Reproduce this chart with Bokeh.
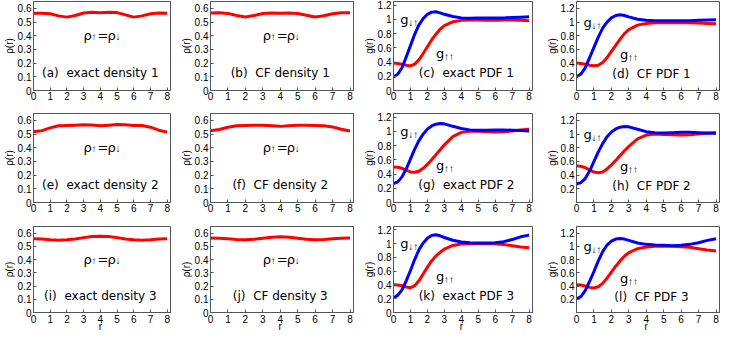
import math
from bokeh.plotting import figure
from bokeh.layouts import row, column
from bokeh.models import Range1d, FixedTicker, NumeralTickFormatter, Label
from bokeh.embed import file_html
from bokeh.resources import INLINE

# ---------------- data ----------------
r_dens = [0, 0.5, 1.0, 1.5, 2.0, 2.5, 3.0, 3.5, 4.0, 4.5, 5.0, 5.5, 6.0, 6.5, 7.0, 7.5, 8.0]
dens_a = [0.564, 0.565, 0.560, 0.545, 0.536, 0.548, 0.566, 0.571, 0.567, 0.572, 0.569, 0.552, 0.536, 0.545, 0.560, 0.566, 0.564]
dens_b = [0.566, 0.567, 0.563, 0.548, 0.537, 0.548, 0.562, 0.566, 0.564, 0.566, 0.563, 0.550, 0.537, 0.546, 0.561, 0.567, 0.567]
dens_e = [0.516, 0.525, 0.545, 0.560, 0.562, 0.565, 0.568, 0.566, 0.560, 0.565, 0.570, 0.567, 0.563, 0.562, 0.550, 0.528, 0.514]
dens_f = [0.524, 0.533, 0.550, 0.561, 0.563, 0.564, 0.564, 0.560, 0.556, 0.561, 0.565, 0.564, 0.562, 0.560, 0.552, 0.535, 0.522]
dens_i = [0.558, 0.555, 0.550, 0.547, 0.549, 0.556, 0.566, 0.574, 0.577, 0.574, 0.566, 0.556, 0.549, 0.547, 0.550, 0.555, 0.558]
dens_j = [0.563, 0.562, 0.557, 0.552, 0.550, 0.553, 0.561, 0.569, 0.572, 0.569, 0.561, 0.553, 0.550, 0.552, 0.557, 0.562, 0.563]

r_pdf = [0, 0.25, 0.5, 0.75, 1, 1.25, 1.5, 1.75, 2, 2.25, 2.5, 2.75, 3, 3.5, 4, 4.5, 5, 5.5, 6, 6.5, 7, 7.5, 8]
g_ud_c = [0.19, 0.23, 0.32, 0.47, 0.63, 0.79, 0.92, 1.01, 1.07, 1.10, 1.105, 1.09, 1.07, 1.04, 1.02, 1.015, 1.02, 1.02, 1.02, 1.02, 1.025, 1.03, 1.035]
g_uu_c = [0.385, 0.38, 0.37, 0.355, 0.345, 0.37, 0.43, 0.52, 0.615, 0.71, 0.79, 0.86, 0.91, 0.965, 0.985, 0.99, 0.99, 0.985, 0.985, 0.99, 0.99, 0.985, 0.98]
g_ud_d = [0.20, 0.24, 0.33, 0.48, 0.63, 0.78, 0.91, 1.00, 1.06, 1.095, 1.105, 1.095, 1.075, 1.04, 1.025, 1.02, 1.02, 1.02, 1.02, 1.02, 1.025, 1.03, 1.035]
g_uu_d = [0.40, 0.395, 0.385, 0.37, 0.36, 0.37, 0.41, 0.48, 0.57, 0.66, 0.75, 0.83, 0.89, 0.955, 0.98, 0.99, 0.99, 0.99, 0.99, 0.99, 0.985, 0.98, 0.975]
g_ud_g = [0.265, 0.29, 0.36, 0.47, 0.61, 0.75, 0.87, 0.96, 1.03, 1.075, 1.10, 1.11, 1.105, 1.07, 1.04, 1.02, 1.015, 1.015, 1.02, 1.02, 1.015, 1.01, 1.005]
g_uu_g = [0.50, 0.495, 0.48, 0.455, 0.43, 0.425, 0.44, 0.48, 0.535, 0.60, 0.67, 0.74, 0.81, 0.925, 0.985, 1.0, 1.0, 0.995, 0.99, 0.995, 1.005, 1.02, 1.03]
g_ud_h = [0.27, 0.29, 0.35, 0.46, 0.60, 0.74, 0.86, 0.96, 1.03, 1.075, 1.10, 1.11, 1.105, 1.07, 1.035, 1.02, 1.015, 1.02, 1.025, 1.025, 1.02, 1.015, 1.01]
g_uu_h = [0.535, 0.53, 0.51, 0.475, 0.445, 0.435, 0.445, 0.49, 0.55, 0.615, 0.685, 0.755, 0.82, 0.93, 0.985, 1.0, 0.995, 0.99, 0.985, 0.99, 1.0, 1.01, 1.02]
g_ud_k = [0.21, 0.25, 0.33, 0.46, 0.61, 0.77, 0.91, 1.01, 1.08, 1.12, 1.13, 1.115, 1.09, 1.05, 1.025, 1.015, 1.01, 1.01, 1.015, 1.03, 1.06, 1.10, 1.125]
g_uu_k = [0.405, 0.40, 0.39, 0.37, 0.36, 0.39, 0.46, 0.56, 0.66, 0.75, 0.82, 0.875, 0.92, 0.975, 0.995, 1.0, 1.0, 1.0, 1.0, 0.99, 0.97, 0.952, 0.94]
g_ud_l = [0.205, 0.24, 0.33, 0.47, 0.62, 0.78, 0.92, 1.02, 1.08, 1.11, 1.12, 1.11, 1.09, 1.05, 1.03, 1.02, 1.015, 1.01, 1.015, 1.03, 1.055, 1.09, 1.115]
g_uu_l = [0.42, 0.415, 0.40, 0.38, 0.37, 0.39, 0.44, 0.52, 0.61, 0.70, 0.78, 0.85, 0.905, 0.965, 0.99, 1.0, 1.0, 1.0, 0.995, 0.985, 0.965, 0.945, 0.93]

x_ticks = [0, 1, 2, 3, 4, 5, 6, 7, 8]
dens_ticks = [0, 0.1, 0.2, 0.3, 0.4, 0.5, 0.6]
pdf_ticks = [0, 0.2, 0.4, 0.6, 0.8, 1.0, 1.2]
pdf_ticks_cf = [0.2, 0.4, 0.6, 0.8, 1.0, 1.2]
x_name = "r"

NB = "\u00a0\u00a0"
dens_labels = [["(a)" + NB + "exact density 1", "(b)" + NB + "CF density 1"],
               ["(e)" + NB + "exact density 2", "(f)" + NB + "CF density 2"],
               ["(i)" + NB + "exact density 3", "(j)" + NB + "CF density 3"]]
pdf_labels = [["(c)" + NB + "exact PDF 1", "(d)" + NB + "CF PDF 1"],
              ["(g)" + NB + "exact PDF 2", "(h)" + NB + "CF PDF 2"],
              ["(k)" + NB + "exact PDF 3", "(l)" + NB + "CF PDF 3"]]
dens_series = [[dens_a, dens_b], [dens_e, dens_f], [dens_i, dens_j]]
pdf_series = [[(g_ud_c, g_uu_c), (g_ud_d, g_uu_d)],
              [(g_ud_g, g_uu_g), (g_ud_h, g_uu_h)],
              [(g_ud_k, g_uu_k), (g_ud_l, g_uu_l)]]

# ---------------- geometry / style ----------------
col_w = [177, 183, 183, 189]
col_left = [23, 29, 29, 27]
col_right = [7, 7, 11, 13]
row_h = [105, 112, 118]
row_top = [1, 8, 9]
row_bottom = [15, 15, 23]

FRAME = "#555555"
TICK_FONT = "Liberation Sans"
TXT_FONT = "DejaVu Sans"
RED = "#ff0000"
BLUE = "#0000ff"


def make_fig(ci, ri, y_end, y_ticks, ylab):
    p = figure(width=col_w[ci], height=row_h[ri],
               x_range=Range1d(0, 8.2), y_range=Range1d(0, y_end),
               output_backend="svg", toolbar_location=None, tools="",
               min_border_left=col_left[ci], min_border_right=col_right[ci],
               min_border_top=row_top[ri], min_border_bottom=row_bottom[ri])
    p.grid.visible = False
    p.outline_line_color = FRAME
    p.outline_line_width = 1
    p.background_fill_color = "white"
    p.border_fill_color = "white"

    for ax, tk in ((p.xaxis[0], x_ticks), (p.yaxis[0], y_ticks)):
        ax.ticker = FixedTicker(ticks=tk)
        ax.major_tick_in = 3
        ax.major_tick_out = 0
        ax.minor_tick_line_color = None
        ax.major_tick_line_color = FRAME
        ax.axis_line_color = FRAME
        ax.major_label_text_font = TICK_FONT
        ax.major_label_text_font_size = "10px"
        ax.major_label_text_color = "black"
        ax.major_label_standoff = 2
    p.yaxis[0].formatter = NumeralTickFormatter(format="0.[0]")
    p.xaxis[0].major_label_standoff = 1

    ya = p.yaxis[0]
    ya.axis_label = ylab
    ya.axis_label_text_font = TICK_FONT
    ya.axis_label_text_font_size = "10px"
    ya.axis_label_text_font_style = "normal"
    ya.axis_label_text_color = "black"
    ya.axis_label_standoff = 0

    if ri == 2:
        xa = p.xaxis[0]
        xa.major_label_overrides = {4: "4\n" + x_name}
        xa.major_label_text_line_height = 0.72
    return p


def parts_label(p, x, y, parts):
    for txt, size, dx, dy, font in parts:
        p.add_layout(Label(x=x, y=y, x_offset=dx, y_offset=dy, text=txt,
                           text_font=font, text_font_size=f"{size}px",
                           text_align="left", text_baseline="alphabetic",
                           text_color="black"))


rows = []
for ri in range(3):
    figs = []
    for k in range(2):
        ci = k
        p = make_fig(ci, ri, 0.65, dens_ticks, "ρ(r)")
        p.line(r_dens, dens_series[ri][k], line_width=3, line_color=RED, line_join="round")
        parts_label(p, 3.0, 0.40, [("ρ", 13, 0, 0, TXT_FONT),
                                   ("↑", 10, 8, -1, TICK_FONT),
                                   ("=", 13, 14, 0, TXT_FONT),
                                   ("ρ", 13, 24, 0, TXT_FONT),
                                   ("↓", 10, 32, -1, TICK_FONT)])
        p.add_layout(Label(x=4.0, y=0.125, text=dens_labels[ri][k], text_align="center",
                           text_baseline="middle", text_font=TXT_FONT,
                           text_font_size="12px", text_color="black"))
        figs.append(p)
    for k in range(2):
        ci = 2 + k
        if k == 0:
            p = make_fig(ci, ri, 1.25, pdf_ticks, "g(r)")
        else:
            p = make_fig(ci, ri, 1.3, pdf_ticks_cf, "g(r)")
        ud, uu = pdf_series[ri][k]
        p.line(r_pdf, uu, line_width=3, line_color=RED, line_join="round")
        p.line(r_pdf, ud, line_width=3, line_color=BLUE, line_join="round")
        parts_label(p, 0.4, 1.0, [("g", 13, 0, 0, TXT_FONT),
                                  ("↓↑", 10, 8, -3, TICK_FONT)])
        parts_label(p, 2.5, 0.52, [("g", 13, 0, 0, TXT_FONT),
                                   ("↑↑", 10, 8, -3, TICK_FONT)])
        p.add_layout(Label(x=4.3, y=0.24, text=pdf_labels[ri][k], text_align="center",
                           text_baseline="middle", text_font=TXT_FONT,
                           text_font_size="12px", text_color="black"))
        figs.append(p)
    rows.append(row(*figs, spacing=0))

layout = column(*rows, spacing=0)
open("out.html", "w").write(file_html(layout, INLINE))
